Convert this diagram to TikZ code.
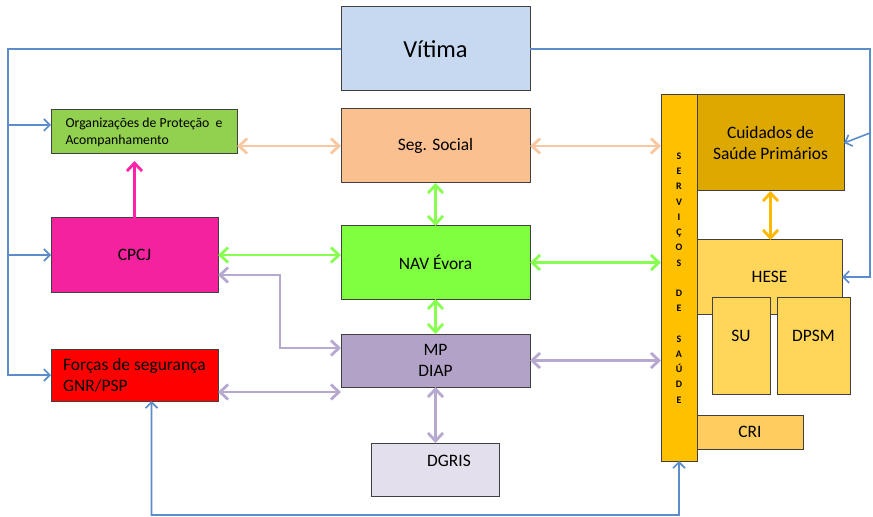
\documentclass[tikz,border=0pt]{standalone}
\usepackage{fontspec}
\setmainfont{Carlito}
\usetikzlibrary{arrows.meta,calc}

\definecolor{vitimafill}{HTML}{C6D9F1}
\definecolor{orgfill}{HTML}{92D050}
\definecolor{segfill}{HTML}{FAC090}
\definecolor{cpcjfill}{HTML}{F522A0}
\definecolor{navfill}{HTML}{80FF40}
\definecolor{mpfill}{HTML}{B3A2C7}
\definecolor{dgrisfill}{HTML}{E4DFEC}
\definecolor{servfill}{HTML}{FFC000}
\definecolor{cuidfill}{HTML}{DDA800}
\definecolor{hesefill}{HTML}{FFD65A}
\definecolor{crifill}{HTML}{FFCC60}
\definecolor{bluelink}{HTML}{5B8DCB}
\definecolor{peachlink}{HTML}{F9C8A0}
\definecolor{limelink}{HTML}{88FF50}
\definecolor{lilaclink}{HTML}{B7A8D0}
\definecolor{pinklink}{HTML}{FF22A8}
\definecolor{amberlink}{HTML}{FFB800}

\begin{document}
\begin{tikzpicture}[x=1bp, y=-1bp,
  box/.style={draw=black!75, line width=1bp, inner sep=0pt, outer sep=0pt,
    anchor=north west, align=center, font=\fontsize{17.5}{21}\selectfont},
  label text/.style={inner sep=0pt, font=\fontsize{17.5}{21}\selectfont},
  link/.style={line width=2.8bp, <->,
    >={Straight Barb[length=8bp, width=15bp]}},
  vline/.style={draw=bluelink, line width=1.6bp, ->,
    >={Straight Barb[length=6bp, width=12bp]}}]

  \fill[white] (0,0) rectangle (873,517);
  \useasboundingbox (0,0) rectangle (873,517);

  % Middle column
  \node[box, fill=vitimafill, minimum width=189bp, minimum height=84bp,
    font=\fontsize{24.5}{28}\selectfont] (vitima) at (341,7) {Vítima};
  \node[box, fill=segfill, minimum width=189bp, minimum height=74bp] (seg) at (341,109) {Seg. Social};
  \node[box, fill=navfill, minimum width=189bp, minimum height=73bp] (nav) at (341,226) {NAV Évora};
  \node[box, fill=mpfill, minimum width=189bp, minimum height=53bp] (mp) at (341,334) {MP\\DIAP};
  \node[box, fill=dgrisfill, minimum width=128bp, minimum height=53bp] (dgris) at (371,443) {};
  \node[label text] (dgristext) at ($(dgris.north)+(14,18)$) {DGRIS};

  % Left column
  \node[box, fill=orgfill, minimum width=186bp, minimum height=44bp, align=left,
    font=\fontsize{13.8}{17}\selectfont] (org) at (51,110) {Organizações de Proteção~ e\\Acompanhamento};
  \node[box, fill=cpcjfill, minimum width=167bp, minimum height=74bp] (cpcj) at (51,218) {CPCJ};
  \node[box, fill=red, minimum width=167bp, minimum height=52bp, align=left] (forcas) at (51,349) {Forças de segurança\\GNR/PSP};

  % Right column
  \node[box, fill=servfill, minimum width=36bp, minimum height=366bp,
    font=\fontsize{10}{15.3}\selectfont\bfseries] (serv) at (661,95)
    {S\\E\\R\\V\\I\\Ç\\O\\S\\~\\D\\E\\~\\S\\A\\Ú\\D\\E};
  \node[box, fill=cuidfill, minimum width=147bp, minimum height=96bp] (cuid) at (697,95) {Cuidados de\\Saúde Primários};
  \node[box, fill=hesefill, minimum width=145bp, minimum height=74bp] (hese) at (697,240) {HESE};
  \node[box, fill=hesefill, minimum width=58bp, minimum height=96bp] (su) at (712,298) {};
  \node[label text] (sutext) at ($(su.north)+(0,38)$) {SU};
  \node[box, fill=hesefill, minimum width=73bp, minimum height=96bp] (dpsm) at (777,298) {};
  \node[label text] (dpsmtext) at ($(dpsm.north)+(0,38)$) {DPSM};
  \node[box, fill=crifill, minimum width=106bp, minimum height=34bp] (cri) at (697,415) {CRI};

  % Blue lines from the victim
  \coordinate (lt) at (8,49);
  \coordinate (rt) at (870,49);
  \coordinate (bot) at (679,515);
  \coordinate (bend) at (280,348);
  \draw[vline] (vitima.west) -- (lt) |- (forcas.west);
  \draw[vline] ($(lt |- org.west)+(0,-7)$) -- ($(org.west)+(0,-7)$);
  \draw[vline] (lt |- cpcj.west) -- (cpcj.west);
  \draw[vline] (vitima.east) -- (rt) |- (hese.east);
  \draw[vline] ($(rt |- cuid.east)+(0,-10)$) -- (cuid.east);
  \draw[vline, <->] ($(forcas.south)+(17,0)$) |- (bot) -- (serv.south);

  % Links between services
  \draw[link, peachlink] (org.east |- seg.west) -- (seg.west);
  \draw[link, peachlink] (seg.east) -- (seg.east -| serv.west);
  \draw[link, limelink] (cpcj.east) -- (cpcj.east -| nav.west);
  \draw[link, limelink] (seg.south) -- (nav.north);
  \draw[link, limelink] (nav.east) -- (nav.east -| serv.west);
  \draw[link, limelink] (nav.south) -- (mp.north);
  \draw[link, lilaclink] ($(cpcj.east)+(0,20)$) -| (bend) -- (bend -| mp.west);
  \draw[link, lilaclink] ($(forcas.east)+(0,17)$) coordinate (fm) -- (fm -| mp.west);
  \draw[link, lilaclink] (mp.east) -- (mp.east -| serv.west);
  \draw[link, lilaclink] (mp.south) -- (mp.south |- dgris.north);
  \draw[link, pinklink, ->, shorten >=7bp] (cpcj.north) -- (cpcj.north |- org.south);
  \draw[link, amberlink] (cuid.south) -- (cuid.south |- hese.north);
\end{tikzpicture}
\end{document}
